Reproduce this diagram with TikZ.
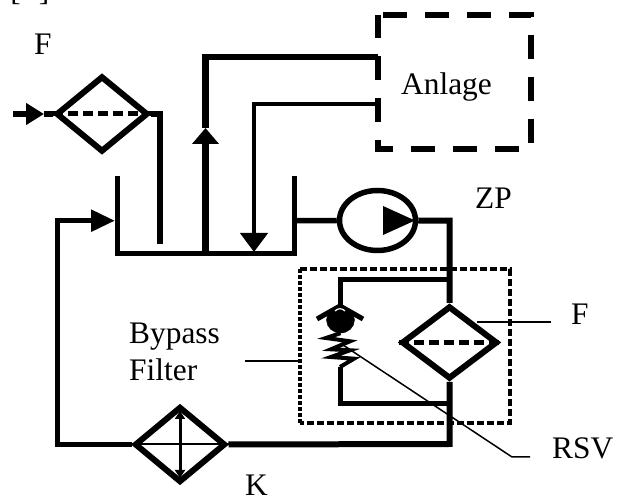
\documentclass[tikz,border=0pt]{standalone}
\usepackage{fontspec}
\setmainfont{Liberation Serif}
\usetikzlibrary{arrows.meta,shapes.geometric}
\begin{document}
\begin{tikzpicture}[line join=miter,
    pipe/.style={line width=5.5bp},
    filterbox/.style={draw,diamond,line width=6bp,inner sep=0pt},
    filterbar/.style={line width=5bp,dash pattern=on 10bp off 5bp},
    leader/.style={line width=1.5bp},
    caption/.style={anchor=base west,inner sep=0pt,font=\fontsize{31.5}{37}\selectfont,align=left}]
  \useasboundingbox (0bp,0bp) rectangle (623bp,497bp);
  \node (Bracket) at (10.3bp,496bp) [caption] {[\hspace{18bp}]};
  \node (LabelF1) at (34bp,442bp) [caption] {F};
  \node (LabelZP) at (475bp,288bp) [caption] {ZP};
  \node (LabelF2) at (571bp,172bp) [caption] {F};
  \node (LabelRSV) at (552bp,39bp) [caption] {RSV};
  \node (LabelK) at (245bp,2bp) [caption] {K};
  \node (LabelBypass) at (129bp,153bp) [caption] {Bypass};
  \node (LabelFilter) at (129bp,116bp) [caption] {Filter};
  \node (LabelAnlage) at (401bp,402bp) [caption] {Anlage};
  \node (Plant) at (454.5bp,415bp) [minimum width=153bp,minimum height=134bp,inner sep=0pt,outer sep=0pt] {};
  \node (FilterIn) at (102bp,383bp) [filterbox,minimum width=92bp,minimum height=76bp] {};
  \node (FilterMain) at (449.5bp,154.5bp) [filterbox,minimum width=96bp,minimum height=73bp] {};
  \node (Cooler) at (180bp,52.5bp) [filterbox,minimum width=91bp,minimum height=76bp] {};
  \node (Pump) at (377.5bp,276.5bp) [draw,ellipse,line width=5.5bp,inner sep=0pt,minimum width=76bp,minimum height=60bp] {};
  \node (Ball) at (340.5bp,177bp) [draw,fill,ellipse,inner sep=0pt,minimum width=28bp,minimum height=26bp] {};
  \node (Bypass) at (405bp,150.5bp) [minimum width=210bp,minimum height=154bp,inner sep=0pt,outer sep=0pt] {};
  % tank
  \draw [pipe,line width=5bp] (117bp,321bp) -- (117bp,243.5bp) -- (294bp,243.5bp) -- (294bp,321bp);
  % plant
  \draw [line width=5.5bp,dash pattern=on 24bp off 18bp] ([xshift=5bp]Plant.north west) -- (Plant.north east) -- (Plant.south east) -- (Plant.south west) -- (Plant.north west);
  % inlet
  \coordinate (InTip) at (44bp,383bp);
  \draw [pipe,-{Triangle[length=18bp,width=21bp]}] (13bp,383bp) -- (InTip);
  \draw [pipe] (InTip) -- (FilterIn.west);
  \draw [filterbar] (FilterIn.west) -- (FilterIn.east);
  \draw [pipe,line width=6bp] (FilterIn.east) -- (160bp,383bp) -- (160bp,253bp);
  % supply and return
  \coordinate (SupplyTip) at (205.5bp,369bp);
  \draw [pipe,line width=6.5bp,-{Triangle[length=16bp,width=26bp]}] (205.5bp,243.5bp) -- (SupplyTip);
  \draw [pipe,line width=6.5bp] (SupplyTip) -- (205.5bp,440bp) -- (378bp,440bp);
  \draw [pipe,line width=4.5bp,-{Triangle[length=19bp,width=27bp]}] (378bp,393bp) -- (254bp,393bp) -- (254bp,245bp);
  % main loop
  \coordinate (TankTip) at (115bp,276.3bp);
  \draw [pipe] (294bp,276.3bp) -- (Pump.west);
  \draw [pipe,line width=6bp] (Pump.east) -- (449.5bp,276.3bp) -- (FilterMain.north);
  \draw [pipe,line width=6bp] (FilterMain.south) -- (449.5bp,53bp) -- (Cooler.east);
  \draw [pipe,-{Triangle[length=24bp,width=21bp]}] (Cooler.west) -- (57.5bp,52.5bp) -- (57.5bp,276.3bp) -- (TankTip);
  \fill (383bp,291bp) -- (415bp,276.5bp) -- (383bp,262bp) -- cycle;
  \draw [filterbar] (FilterMain.west) -- (FilterMain.east);
  % cooler
  \draw [line width=2bp] (Cooler.west) -- (Cooler.east);
  \draw [line width=3bp,{Triangle[length=8bp,width=10bp]}-{Triangle[length=8bp,width=10bp]}] (180bp,86bp) -- (180bp,19bp);
  % bypass
  \draw [line width=4bp,dash pattern=on 7bp off 3bp] (Bypass.north west) -- (Bypass.north east) -- (Bypass.south east) -- (Bypass.south west);
  \draw [line width=4bp,dash pattern=on 4bp off 2bp] (Bypass.south west) -- (Bypass.north west);
  \draw [pipe,line width=5bp] (449.5bp,217bp) -- (340bp,217bp) -- (340bp,191bp);
  \draw [pipe,line width=5bp] (317bp,178bp) -- (340bp,191bp) -- (363bp,178bp);
  \draw [white,line width=1.2bp] (335bp,186bp) .. controls (338bp,189bp) and (342bp,189bp) .. (345bp,186bp);
  \draw [line width=4bp] (Ball.south) -- (326bp,159bp) -- (350bp,155.7bp) -- (331bp,147.7bp) -- (350bp,146.7bp) -- (331bp,140bp) -- (354bp,138.3bp) -- (340bp,130bp);
  \draw [pipe,line width=5bp] (340bp,130bp) -- (340bp,93bp) -- (449.5bp,93bp);
  % leaders
  \draw [leader] (477bp,175bp) -- (551bp,175bp);
  \draw [leader] (343bp,152bp) -- (512bp,40bp) -- (530bp,40bp);
  \draw [leader] (245bp,136bp) -- (Bypass.west |- 0bp,136bp);
\end{tikzpicture}
\end{document}
